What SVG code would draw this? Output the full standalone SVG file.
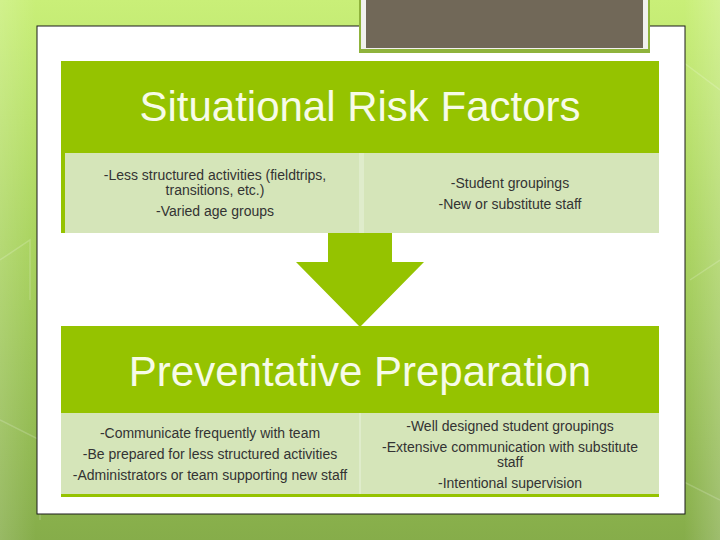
<svg xmlns="http://www.w3.org/2000/svg" width="720" height="540" viewBox="0 0 720 540">
<defs>
<linearGradient id="bg" x1="0" y1="0" x2="0" y2="1">
<stop offset="0" stop-color="#c9ef78"/>
<stop offset="0.45" stop-color="#a9d35e"/>
<stop offset="1" stop-color="#86ad4a"/>
</linearGradient>
<linearGradient id="side" x1="0" y1="0" x2="1" y2="0">
<stop offset="0" stop-color="#ffffff" stop-opacity="0.15"/>
<stop offset="0.05" stop-color="#ffffff" stop-opacity="0"/>
<stop offset="0.95" stop-color="#ffffff" stop-opacity="0"/>
<stop offset="1" stop-color="#ffffff" stop-opacity="0.2"/>
</linearGradient>
<style>
.title{font-family:"Liberation Sans",Arial,sans-serif;font-size:42px;fill:#f7fbe8;text-anchor:middle}
.t{font-family:"Liberation Sans",Arial,sans-serif;font-size:14px;fill:#333333;text-anchor:middle}
.hdr{fill:#95c300}
.cell{fill:#d5e5b9}
.bgline{fill:none;stroke:#ffffff;stroke-opacity:0.18;stroke-width:1.5}
</style>
</defs>
<rect x="0" y="0" width="720" height="540" fill="url(#bg)"/>
<rect x="0" y="0" width="720" height="540" fill="url(#side)"/>
<path class="bgline" d="M0 260 L30 240 L30 300 M0 420 L40 440 L40 520 M690 280 L720 260 M660 470 L720 500 M640 30 L720 90"/>
<rect x="37" y="26" width="648" height="488" fill="#ffffff" stroke="#1a1a1a" stroke-width="1"/>
<g id="tab">
<rect x="359" y="-2" width="291" height="55" fill="#8fb33c"/>
<rect x="361" y="-2" width="287" height="51" fill="#f1f1ee"/>
<rect x="366" y="-2" width="277" height="50" fill="#716858"/>
</g>
<g id="risk">
<rect class="hdr" x="61" y="61" width="598" height="172"/>
<text class="title" x="360" y="121">Situational Risk Factors</text>
<rect class="cell" x="65" y="153" width="294" height="80"/>
<rect x="359" y="153" width="5" height="80" fill="#dfeccb"/>
<rect class="cell" x="364" y="153" width="295" height="80"/>
<text class="t" x="215" y="180">-Less structured activities (fieldtrips,</text>
<text class="t" x="215" y="195">transitions, etc.)</text>
<text class="t" x="215" y="216">-Varied age groups</text>
<text class="t" x="510" y="188">-Student groupings</text>
<text class="t" x="510" y="209">-New or substitute staff</text>
</g>
<g id="connectors">
<polygon points="328,233 392,233 392,262 424,262 360,327 296,262 328,262" fill="#95c300"/>
</g>
<g id="prep">
<rect class="hdr" x="61" y="326" width="598" height="87"/>
<text class="title" x="360" y="386">Preventative Preparation</text>
<rect class="cell" x="61" y="413" width="298" height="82"/>
<rect x="359" y="413" width="2" height="82" fill="#dfeccb"/>
<rect class="cell" x="361" y="413" width="298" height="82"/>
<rect x="61" y="494" width="598" height="3" fill="#95c300"/>
<text class="t" x="210" y="438">-Communicate frequently with team</text>
<text class="t" x="210" y="459">-Be prepared for less structured activities</text>
<text class="t" x="210" y="480">-Administrators or team supporting new staff</text>
<text class="t" x="510" y="431">-Well designed student groupings</text>
<text class="t" x="510" y="452">-Extensive communication with substitute</text>
<text class="t" x="510" y="467">staff</text>
<text class="t" x="510" y="488">-Intentional supervision</text>
</g>
</svg>
